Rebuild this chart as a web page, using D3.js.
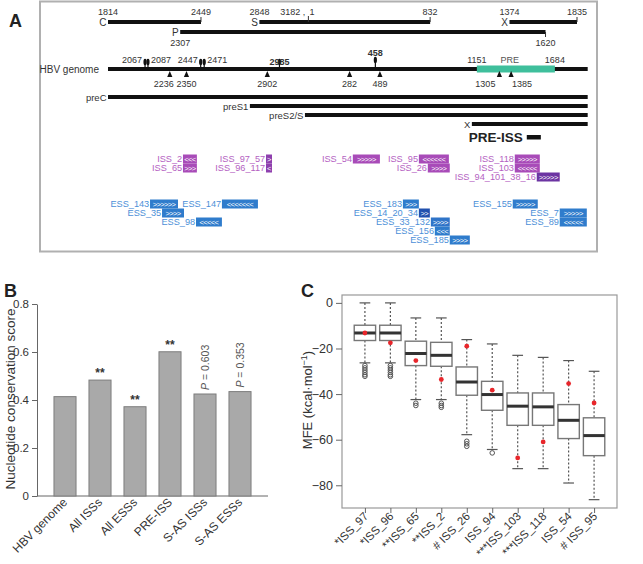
<!DOCTYPE html>
<html><head><meta charset="utf-8">
<script src="https://cdn.jsdelivr.net/npm/d3@7/dist/d3.min.js"></script>
<style>body{margin:0;background:#fff}svg{display:block}</style>
</head><body>
<svg id="fig" width="643" height="564"></svg>
<script>
// ---------------- DATA ----------------
// Panel A: HBV genome map (genome length 3182, drawn starting at 1814)
const genomeLength = 3182;
const genomeStart = 1814;
const genomeEnd = 1908;           // genome line runs one full turn, then on to here
const orfNames = ["C", "S", "X", "P"];
const orfStarts = [1814, 2848, 1374, 2307];
const orfEnds = [2449, 832, 1835, 1620];
const orfRows = [0, 0, 0, 1];
const sitesAbove = [2067, 2087, 2447, 2471, 2985, 458];
const sitesBelow = [2236, 2350, 2902, 282, 489, 1305, 1385];
const preRegion = [1151, 1684];
const transcriptNames = ["preC", "preS1", "preS2/S", "X"];
const transcriptStarts = [1814, 2783, 3159, 1117];
const preIssRegion = [1492, 1588];

const issNames = ["ISS_2", "ISS_65", "ISS_97_57", "ISS_96_117", "ISS_54", "ISS_95", "ISS_26", "ISS_118", "ISS_103", "ISS_94_101_38_16"];
const issStarts = [2326, 2326, 2893, 2893, 304, 755, 816, 1410, 1410, 1560];
const issEnds = [2421, 2421, 2934, 2934, 489, 960, 966, 1581, 1581, 1717];
const issStrands = ["-", "+", "+", "-", "+", "-", "+", "+", "-", "+"];
const issRows = [0, 1, 0, 1, 0, 0, 1, 0, 1, 2];

const essNames = ["ESS_143", "ESS_147", "ESS_35", "ESS_98", "ESS_183", "ESS_14_20_34", "ESS_33_132", "ESS_156", "ESS_185", "ESS_155", "ESS_7", "ESS_89"];
const essStarts = [2101, 2592, 2183, 2415, 646, 755, 837, 864, 966, 1396, 1717, 1717];
const essEnds = [2292, 2838, 2333, 2592, 755, 830, 966, 966, 1103, 1567, 1902, 1902];
const essStrands = ["+", "-", "+", "-", "+", "+", "+", "-", "+", "+", "+", "-"];
const essRows = [0, 0, 1, 2, 0, 1, 2, 3, 4, 0, 1, 2];

// Panel B
const bCategories = ["HBV genome", "All ISSs", "All ESSs", "PRE-ISS", "S-AS ISSs", "S-AS ESSs"];
const bValues = [0.414, 0.483, 0.372, 0.601, 0.425, 0.435];
const bSignif = ["", "**", "**", "**", "", ""];
const bPvalues = ["", "", "", "", "0.603", "0.353"];
const bTicks = [0, 0.2, 0.4, 0.6, 0.8];

// Panel C
const cCategories = ["*ISS_97", "*ISS_96", "**ISS_65", "**ISS_2", "# ISS_26", "ISS_94", "***ISS_103", "***ISS_118", "ISS_54", "# ISS_95"];
const cWhiskerHigh = [0, 0, -6.6, -6.6, -16.1, -18, -23, -23.9, -25.3, -30];
const cQ3 = [-9.8, -9.8, -16.8, -17.3, -28.1, -34.4, -39.5, -39.5, -44.6, -50.4];
const cMedian = [-13.2, -13.2, -22.2, -23, -34.7, -40.2, -45.3, -45.6, -51.5, -58.2];
const cQ1 = [-16.5, -16.5, -27.5, -27.8, -40.5, -47.1, -53.7, -53.7, -59.5, -67];
const cWhiskerLow = [-26.3, -26.3, -42.4, -42.4, -57.8, -64.3, -72.7, -72.7, -79, -86.3];
const cObserved = [-13.2, -17.5, -25.3, -33.6, -19, -38.3, -68, -61, -35.4, -43.9];
const cOutliers = [
  [-27.5, -28.5, -29.5, -30.5, -31.5, -32.2],
  [-27.5, -28.5, -29.5, -30.5, -31.5, -32.2],
  [-44, -45],
  [-44, -45, -45.8],
  [-60.7, -61.8, -62.9],
  [-65.8], [], [], [], []
];
const cTicks = [0, -20, -40, -60, -80];

// ---------------- DRAWING ----------------
const FONT = "'Liberation Sans', Arial, Helvetica, sans-serif";
const svg = d3.select("#fig").style("font-family", FONT);

// panel letters
[["A", 9, 27], ["B", 4, 297], ["C", 301, 297]].forEach(([t, x, y]) =>
  svg.append("text").attr("x", x).attr("y", y).attr("font-size", 18).attr("font-weight", "bold").attr("fill", "#222").text(t));

// ===== Panel A =====
const gA = svg.append("g");
gA.append("rect").attr("x", 40).attr("y", 1.5).attr("width", 557).attr("height", 250)
  .attr("fill", "none").attr("stroke", "#b0b0b0").attr("stroke-width", 2);

const unwrap = p => p >= genomeStart ? p : p + genomeLength;
const unwrapEnd = (s, e) => { const us = unwrap(s); let ue = unwrap(e); if (ue <= us) ue += genomeLength; return ue; };
const xA = d3.scaleLinear().domain([genomeStart, genomeStart + 3203]).range([108, 577]);
const xg = p => xA(unwrap(p));
const xgEnd = (s, e) => xA(unwrapEnd(s, e));
const xLineEnd = xA(genomeEnd + genomeLength);

const txt = (g, x, y, t, opt = {}) => g.append("text").attr("x", x).attr("y", y)
  .attr("font-size", opt.size || 9).attr("fill", opt.fill || "#333")
  .attr("text-anchor", opt.anchor || "middle").attr("font-weight", opt.weight || "normal").text(t);

// ORF bars
const orfRowY = [22, 32];
orfNames.forEach((n, i) => {
  const x0 = xg(orfStarts[i]), x1 = xgEnd(orfStarts[i], orfEnds[i]), y = orfRowY[orfRows[i]];
  gA.append("rect").attr("x", x0).attr("y", y - 2).attr("width", x1 - x0).attr("height", 4).attr("fill", "#111");
  txt(gA, x0 - 1.5, y + 3.5, n, { anchor: "end", size: 10 });
  if (orfRows[i] === 0) {
    gA.append("line").attr("x1", x1).attr("x2", x1).attr("y1", y - 5).attr("y2", y).attr("stroke", "#333");
    txt(gA, x0, y - 7, orfStarts[i]);
    txt(gA, x1, y - 7, orfEnds[i]);
  } else {
    gA.append("line").attr("x1", x1).attr("x2", x1).attr("y1", y).attr("y2", y + 5).attr("stroke", "#333");
    txt(gA, x0, y + 14, orfStarts[i]);
    txt(gA, x1, y + 14, orfEnds[i]);
  }
});
// wrap point of genome on S ORF
{
  const xw = xA(genomeLength + 0.5);
  gA.append("line").attr("x1", xw).attr("x2", xw).attr("y1", 16).attr("y2", 22).attr("stroke", "#333");
  txt(gA, xw - 3, 15, genomeLength + " ,", { anchor: "end" });
  txt(gA, xw + 1, 15, "1", { anchor: "start" });
}

// genome line
const gy = 69;
gA.append("rect").attr("x", xg(genomeStart)).attr("y", gy - 2).attr("width", xLineEnd - xg(genomeStart))
  .attr("height", 4).attr("fill", "#111");
txt(gA, 99, gy + 3.5, "HBV genome", { anchor: "end", size: 10 });
// PRE
gA.append("rect").attr("x", xg(preRegion[0])).attr("y", gy - 3.5).attr("width", xg(preRegion[1]) - xg(preRegion[0]))
  .attr("height", 7).attr("fill", "#3fbf9c");
txt(gA, xg(preRegion[0]), gy - 6, preRegion[0]);
txt(gA, xg(preRegion[1]), gy - 6, preRegion[1]);
txt(gA, (xg(preRegion[0]) + xg(preRegion[1])) / 2 - 6, gy - 6, "PRE", { fill: "#555" });

// sites above (arrows)
sitesAbove.forEach((p, i) => {
  const x = xg(p);
  const top = (p === 458) ? gy - 12 : gy - 10;
  gA.append("line").attr("x1", x).attr("x2", x).attr("y1", top).attr("y2", gy).attr("stroke", "#111").attr("stroke-width", 1.2);
  gA.append("ellipse").attr("cx", x).attr("cy", top + 3).attr("rx", 1.6).attr("ry", 3.2).attr("fill", "#111");
  let anchor = "middle", dx = 0, y = gy - 6, weight = "normal";
  if (p === 2067 || p === 2447) { anchor = "end"; dx = -3; }
  if (p === 2087 || p === 2471) { anchor = "start"; dx = 3; }
  if (p === 2985) { weight = "bold"; y = gy - 4; }
  if (p === 458) { weight = "bold"; y = gy - 13; }
  txt(gA, x + dx, y, p, { anchor, weight });
});
// sites below (triangles)
sitesBelow.forEach(p => {
  const x = xg(p);
  gA.append("path").attr("d", `M${x},${gy + 2} L${x - 2.6},${gy + 8} L${x + 2.6},${gy + 8} Z`).attr("fill", "#111");
  let anchor = "middle", dx = 0;
  if (p === 1305) { anchor = "end"; dx = -4; }
  if (p === 1385) { anchor = "start"; dx = 1; }
  if (p === 2236) { anchor = "end"; dx = 4; }
  txt(gA, x + dx, gy + 17.5, p, { anchor });
});

// transcripts
const trY = [97, 106, 115, 124];
transcriptNames.forEach((n, i) => {
  const x0 = xg(transcriptStarts[i]);
  gA.append("rect").attr("x", x0).attr("y", trY[i] - 2).attr("width", xLineEnd - x0).attr("height", 4).attr("fill", "#111");
  txt(gA, x0 - 1.5, trY[i] + 3.5, n, { anchor: "end", size: 9.5 });
});
// PRE-ISS
{
  const x0 = xg(preIssRegion[0]), x1 = xg(preIssRegion[1]);
  gA.append("rect").attr("x", x0).attr("y", 135).attr("width", x1 - x0).attr("height", 4.5).attr("fill", "#111");
  txt(gA, x0 - 4, 142, "PRE-ISS", { anchor: "end", size: 13.5, weight: "bold", fill: "#222" });
}

// ISS / ESS elements
function drawElements(names, starts, ends, strands, rows, rowY, palette) {
  names.forEach((n, i) => {
    const x0 = xg(starts[i]), x1 = xgEnd(starts[i], ends[i]), y = rowY[rows[i]];
    const nIds = n.split("_").length - 1;
    const fill = nIds >= 3 ? palette.dark : (nIds === 2 ? palette.mid : palette.box);
    gA.append("rect").attr("x", x0).attr("y", y - 4.5).attr("width", x1 - x0).attr("height", 9).attr("fill", fill);
    const k = Math.max(1, Math.round((x1 - x0) / 5));
    gA.append("text").attr("x", (x0 + x1) / 2).attr("y", y + 2.6).attr("text-anchor", "middle")
      .attr("font-size", 7.5).attr("fill", "#fff").attr("letter-spacing", -0.6)
      .text((strands[i] === "+" ? ">" : "<").repeat(k));
    txt(gA, x0 - 0.8, y + 3.3, n, { anchor: "end", size: 9.2, fill: palette.text });
  });
}
drawElements(issNames, issStarts, issEnds, issStrands, issRows, [159, 168, 177],
  { box: "#a84bb8", mid: "#8e3fae", dark: "#6c34a2", text: "#b461c2" });
drawElements(essNames, essStarts, essEnds, essStrands, essRows, [204, 213, 222, 231, 240],
  { box: "#2f7ccc", mid: "#2f74c8", dark: "#2150ae", text: "#4c8fd8" });

// ===== Panel B =====
const gB = svg.append("g");
const yB = d3.scaleLinear().domain([0, 0.8]).range([496, 304]);
const xB = d3.scaleBand().domain(bCategories).range([47.5, 257.5]).paddingInner(0.37).paddingOuter(0.185);
gB.append("g").attr("transform", "translate(37,0)")
  .call(d3.axisLeft(yB).tickValues(bTicks).tickSize(5).tickSizeOuter(0).tickFormat(d => d === 0 ? "0" : d3.format(".1f")(d)))
  .call(g => { g.selectAll("text").attr("font-size", 11.5).attr("fill", "#333").attr("font-family", FONT); g.selectAll("line,path").attr("stroke", "#666"); });
gB.append("line").attr("x1", 37).attr("x2", 268).attr("y1", 496).attr("y2", 496).attr("stroke", "#666");
gB.selectAll("rect.bar").data(bCategories).enter().append("rect").attr("class", "bar")
  .attr("x", d => xB(d)).attr("width", xB.bandwidth())
  .attr("y", (d, i) => yB(bValues[i])).attr("height", (d, i) => yB(0) - yB(bValues[i]))
  .attr("fill", "#a9a9a9").attr("stroke", "#7d7d7d").attr("stroke-width", 1);
bCategories.forEach((c, i) => {
  const cx = xB(c) + xB.bandwidth() / 2;
  if (bSignif[i]) txt(gB, cx, yB(bValues[i]) - 3, bSignif[i], { size: 12, fill: "#333", weight: "bold" });
  if (bPvalues[i]) {
    const t = gB.append("text").attr("transform", `translate(${cx + 4},${yB(bValues[i]) - 4}) rotate(-90)`)
      .attr("font-size", 10.5).attr("fill", "#555");
    t.append("tspan").attr("font-style", "italic").text("P");
    t.append("tspan").text(" = " + bPvalues[i]);
  }
  gB.append("text").attr("transform", `translate(${cx + 3},${503}) rotate(-45)`).attr("text-anchor", "end")
    .attr("font-size", 12).attr("fill", "#333").text(c);
});
gB.append("text").attr("transform", "translate(15,399) rotate(-90)").attr("text-anchor", "middle")
  .attr("font-size", 13.5).attr("fill", "#333").text("Nucleotide conservation score");

// ===== Panel C =====
const gC = svg.append("g");
const yC = d3.scaleLinear().domain([-89.96, 3.46]).range([508, 295]);
const xC = d3.scaleLinear().domain([0.1, 10.9]).range([342, 617]);
gC.append("rect").attr("x", 342).attr("y", 295).attr("width", 275).attr("height", 213)
  .attr("fill", "none").attr("stroke", "#999").attr("stroke-width", 1.2);
gC.append("g").attr("transform", "translate(342,0)")
  .call(d3.axisLeft(yC).tickValues(cTicks).tickSize(6).tickSizeOuter(0).tickFormat(d => d < 0 ? "\u2212" + Math.abs(d) : String(d)))
  .call(g => { g.select(".domain").remove(); g.selectAll("line").attr("stroke", "#666");
    g.selectAll("text").attr("font-size", 12.5).attr("fill", "#333").attr("font-family", FONT); });
const idx = cCategories.map((d, i) => i + 1);
gC.append("g").attr("transform", "translate(0,508)")
  .call(d3.axisBottom(xC).tickValues(idx).tickSize(5).tickSizeOuter(0).tickFormat(() => ""))
  .call(g => { g.select(".domain").remove(); g.selectAll("line").attr("stroke", "#666"); });
const bw = 0.42, cap = 0.21;
cCategories.forEach((c, i) => {
  const k = i + 1, cx = xC(k), hw = xC(k + bw) - cx, cw = xC(k + cap) - cx;
  const wl = (a, b) => gC.append("line").attr("x1", cx).attr("x2", cx).attr("y1", yC(a)).attr("y2", yC(b))
    .attr("stroke", "#555").attr("stroke-width", 1.2).attr("stroke-dasharray", "2,2");
  wl(cWhiskerHigh[i], cQ3[i]); wl(cQ1[i], cWhiskerLow[i]);
  [cWhiskerHigh[i], cWhiskerLow[i]].forEach(v => gC.append("line").attr("x1", cx - cw).attr("x2", cx + cw)
    .attr("y1", yC(v)).attr("y2", yC(v)).attr("stroke", "#555").attr("stroke-width", 1.2));
  gC.append("rect").attr("x", cx - hw).attr("y", yC(cQ3[i])).attr("width", 2 * hw).attr("height", yC(cQ1[i]) - yC(cQ3[i]))
    .attr("fill", "#fff").attr("stroke", "#777").attr("stroke-width", 1.4);
  gC.append("line").attr("x1", cx - hw).attr("x2", cx + hw).attr("y1", yC(cMedian[i])).attr("y2", yC(cMedian[i]))
    .attr("stroke", "#333").attr("stroke-width", 3);
  cOutliers[i].forEach(v => gC.append("circle").attr("cx", cx).attr("cy", yC(v)).attr("r", 2.3)
    .attr("fill", "none").attr("stroke", "#555").attr("stroke-width", 1));
  gC.append("circle").attr("cx", cx).attr("cy", yC(cObserved[i])).attr("r", 2.4).attr("fill", "#e8262b");
  gC.append("text").attr("transform", `translate(${cx + 4},${517}) rotate(-45)`).attr("text-anchor", "end")
    .attr("font-size", 11.5).attr("fill", "#333").text(c);
});
{
  const t = gC.append("text").attr("transform", "translate(312,400) rotate(-90)").attr("text-anchor", "middle")
    .attr("font-size", 13).attr("fill", "#333");
  t.append("tspan").text("MFE (kcal\u00b7mol");
  t.append("tspan").attr("font-size", 9).attr("dy", -5).text("\u22121");
  t.append("tspan").attr("dy", 5).text(")");
}
</script>
</body></html>
